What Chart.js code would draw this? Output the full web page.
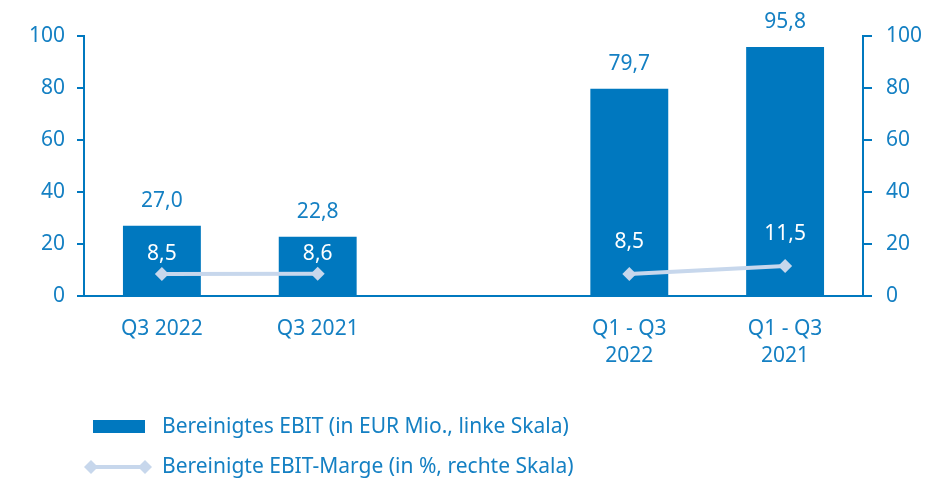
<!DOCTYPE html>
<html>
<head>
<meta charset="utf-8">
<script src="https://cdn.jsdelivr.net/npm/chart.js@4/dist/chart.umd.min.js"></script>
<style>
  html, body { margin: 0; padding: 0; background: #fff; }
  #wrap { width: 937px; height: 481px; }
</style>
</head>
<body>
<div id="wrap"><canvas id="chart" width="937" height="481"></canvas></div>
<script>
const categories = [["Q3 2022"], ["Q3 2021"], [""], ["Q1 - Q3", "2022"], ["Q1 - Q3", "2021"]];
const ebitValues = [27.0, 22.8, null, 79.7, 95.8];
const marginValues = [8.5, 8.6, null, 8.5, 11.5];
const leftTicks = [0, 20, 40, 60, 80, 100];
const rightTicks = [0, 20, 40, 60, 80, 100];

const BLUE = "#0078bf";
const TEXT = "#1580c3";
const LIGHT = "#c7d7ec";
const FONT = "'Noto Sans', sans-serif";
const SIZE = 21;

const fmt = v => v.toFixed(1).replace(".", ",");

const labelsPlugin = {
  id: "valueLabels",
  afterDatasetsDraw(chart) {
    const ctx = chart.ctx;
    ctx.save();
    ctx.font = SIZE + "px " + FONT;
    ctx.textAlign = "center";
    ctx.textBaseline = "middle";
    // dataset 1 = bars, dataset 0 = line
    chart.getDatasetMeta(1).data.forEach((bar, i) => {
      if (ebitValues[i] == null) return;
      ctx.fillStyle = TEXT;
      ctx.fillText(fmt(ebitValues[i]), bar.x, bar.y - 25);
    });
    chart.getDatasetMeta(0).data.forEach((pt, i) => {
      if (marginValues[i] == null) return;
      ctx.fillStyle = "#ffffff";
      const off = ebitValues[i] > 50 ? 32 : 20;
      ctx.fillText(fmt(marginValues[i]), pt.x, pt.y - off);
    });
    ctx.restore();
  }
};

const legendPlugin = {
  id: "sideLegend",
  afterDraw(chart) {
    const ctx = chart.ctx;
    ctx.save();
    ctx.font = SIZE + "px " + FONT;
    ctx.textBaseline = "middle";
    ctx.textAlign = "left";
    // bar item
    ctx.fillStyle = BLUE;
    ctx.fillRect(93, 420, 52, 13);
    ctx.fillStyle = TEXT;
    ctx.fillText("Bereinigtes EBIT (in EUR Mio., linke Skala)", 162, 427);
    // line item
    ctx.strokeStyle = LIGHT;
    ctx.lineWidth = 4;
    ctx.beginPath();
    ctx.moveTo(90, 467);
    ctx.lineTo(146, 467);
    ctx.stroke();
    ctx.fillStyle = LIGHT;
    [91, 145].forEach(x => {
      ctx.beginPath();
      ctx.moveTo(x - 7, 467);
      ctx.lineTo(x, 460);
      ctx.lineTo(x + 7, 467);
      ctx.lineTo(x, 474);
      ctx.closePath();
      ctx.fill();
    });
    ctx.fillStyle = TEXT;
    ctx.fillText("Bereinigte EBIT-Marge (in %, rechte Skala)", 162, 467);
    ctx.restore();
  }
};

new Chart(document.getElementById("chart"), {
  type: "bar",
  data: {
    labels: categories,
    datasets: [
      {
        type: "line",
        label: "Bereinigte EBIT-Marge (in %, rechte Skala)",
        data: marginValues,
        yAxisID: "y2",
        borderColor: LIGHT,
        backgroundColor: LIGHT,
        borderWidth: 4,
        pointStyle: "rectRot",
        pointRadius: 7,
        pointBorderWidth: 0,
        spanGaps: false,
        order: 0
      },
      {
        label: "Bereinigtes EBIT (in EUR Mio., linke Skala)",
        data: ebitValues,
        yAxisID: "y",
        backgroundColor: BLUE,
        barPercentage: 0.5,
        categoryPercentage: 1.0,
        order: 1
      }
    ]
  },
  options: {
    responsive: false,
    animation: false,
    layout: { padding: { top: 36, bottom: 105, left: 0, right: 0 } },
    plugins: {
      legend: { display: false },
      tooltip: { enabled: false }
    },
    scales: {
      x: {
        grid: { display: false, drawTicks: false },
        border: { display: true, color: BLUE, width: 2 },
        ticks: { color: TEXT, font: { family: FONT, size: SIZE, lineHeight: 1.3 }, padding: 19, maxRotation: 0, autoSkip: false },
        afterFit(s) { s.height = 80; }
      },
      y: {
        position: "left",
        min: 0, max: 100,
        afterBuildTicks(s) { s.ticks = leftTicks.map(v => ({ value: v })); },
        grid: { drawOnChartArea: false, drawTicks: true, tickLength: 7, color: BLUE, lineWidth: 2 },
        border: { display: true, color: BLUE, width: 2 },
        ticks: { color: TEXT, font: { family: FONT, size: SIZE }, padding: 12 },
        afterFit(s) { s.width = 84; }
      },
      y2: {
        position: "right",
        min: 0, max: 100,
        afterBuildTicks(s) { s.ticks = rightTicks.map(v => ({ value: v })); },
        grid: { drawOnChartArea: false, drawTicks: true, tickLength: 9, color: BLUE, lineWidth: 2 },
        border: { display: true, color: BLUE, width: 2 },
        ticks: { color: TEXT, font: { family: FONT, size: SIZE }, padding: 14 },
        afterFit(s) { s.width = 74; }
      }
    }
  },
  plugins: [labelsPlugin, legendPlugin]
});
</script>
</body>
</html>
